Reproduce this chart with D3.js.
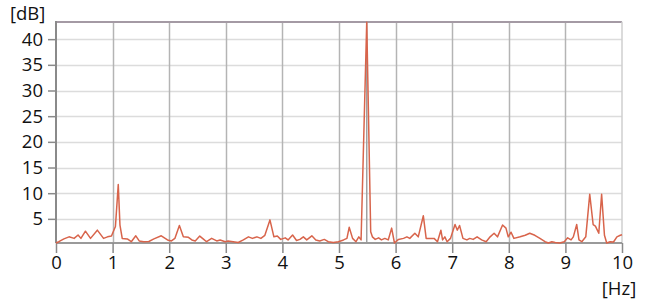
<!DOCTYPE html>
<html><head><meta charset="utf-8">
<script src="https://cdn.jsdelivr.net/npm/d3@7"></script>
<style>body{margin:0;background:#fff}svg{display:block}text{font-family:"Open Sans",sans-serif;fill:#111}</style>
</head><body><svg id="c" width="649" height="299"></svg>
<script>
const freq = [0,0.05,0.14,0.23,0.32,0.39,0.44,0.52,0.61,0.73,0.84,0.91,0.98,1.05,1.10,1.13,1.17,1.26,1.33,1.41,1.47,1.55,1.64,1.73,1.86,1.97,2.04,2.10,2.18,2.25,2.34,2.40,2.46,2.54,2.61,2.66,2.75,2.84,2.90,2.99,3.04,3.13,3.22,3.31,3.40,3.47,3.55,3.62,3.69,3.78,3.85,3.91,3.97,4.05,4.10,4.18,4.25,4.31,4.37,4.43,4.52,4.59,4.66,4.74,4.81,4.90,4.99,5.08,5.14,5.18,5.24,5.30,5.35,5.39,5.49,5.56,5.59,5.64,5.70,5.75,5.81,5.87,5.93,5.98,6.05,6.14,6.20,6.25,6.34,6.40,6.49,6.54,6.60,6.68,6.74,6.80,6.83,6.87,6.91,6.97,7.05,7.09,7.13,7.19,7.26,7.31,7.37,7.44,7.52,7.60,7.67,7.74,7.80,7.89,7.95,7.99,8.04,8.09,8.20,8.29,8.37,8.46,8.55,8.64,8.70,8.76,8.82,8.90,8.98,9.04,9.10,9.14,9.20,9.24,9.29,9.36,9.43,9.49,9.53,9.59,9.64,9.69,9.73,9.79,9.85,9.91,9.97,10.0];
const dB = [0.3,0.55,1.1,1.5,1.2,1.85,1.2,2.6,1.2,2.8,1.2,1.5,1.65,3.5,11.7,3.8,1.2,1.1,0.55,1.7,0.7,0.55,0.6,1.1,1.7,0.9,0.7,1.2,3.7,1.5,1.4,0.9,0.7,1.65,1.0,0.55,1.2,0.7,0.9,0.55,0.7,0.55,0.4,0.9,1.5,1.2,1.5,1.2,1.8,4.8,1.5,1.65,1.0,1.3,0.9,1.85,0.8,1.0,1.5,0.9,1.7,0.9,0.7,1.0,0.55,0.4,0.55,0.9,1.2,3.35,1.2,0.55,1.5,0.9,43.3,2.5,1.5,1.0,1.3,0.9,1.2,0.9,3.2,0.3,1.0,1.2,1.5,1.2,2.2,1.5,5.6,1.2,1.2,1.2,0.55,2.8,0.9,1.5,0.55,1.2,3.9,2.8,3.7,1.2,0.9,1.2,1.0,1.5,0.9,0.55,1.5,2.2,1.5,3.8,3.2,1.5,2.4,1.2,1.5,1.8,2.2,1.8,1.2,0.55,0.3,0.55,0.4,0.3,0.55,1.3,0.9,1.5,3.9,0.9,0.55,1.5,9.8,3.9,3.6,2.2,9.8,1.8,0.3,0.55,0.5,1.5,1.8,1.9];
const xTicks = [0,1,2,3,4,5,6,7,8,9,10];
const yTicks = [5,10,15,20,25,30,35,40];
const yUnit = "[dB]", xUnit = "[Hz]";
const markerFreq = 5.49;

const FS = "18.5px";
const svg = d3.select("#c");
const x = d3.scaleLinear([0,10],[56,622]);
const y = d3.scaleLinear([0.3,43.4],[243,21.7]);

// horizontal grid
svg.append("g").selectAll("line").data(yTicks).join("line")
  .attr("x1",56).attr("x2",622).attr("y1",d=>Math.round(y(d))+0.5).attr("y2",d=>Math.round(y(d))+0.5)
  .attr("stroke","#dcdcdc").attr("stroke-width",1.5);
// vertical grid
svg.append("g").selectAll("line").data(xTicks.slice(1,10)).join("line")
  .attr("x1",d=>Math.round(x(d))+0.5).attr("x2",d=>Math.round(x(d))+0.5).attr("y1",21.7).attr("y2",243)
  .attr("stroke","#b4b4b4").attr("stroke-width",1.5);
// marker line
svg.append("line").attr("x1",x(markerFreq)).attr("x2",x(markerFreq)).attr("y1",21.7).attr("y2",243)
  .attr("stroke","#a0a0a0").attr("stroke-width",1.5);
// borders
svg.append("line").attr("x1",56).attr("x2",622).attr("y1",22).attr("y2",22).attr("stroke","#a49aa4").attr("stroke-width",2);
svg.append("line").attr("x1",622).attr("x2",622).attr("y1",21.7).attr("y2",243).attr("stroke","#cfcfcf").attr("stroke-width",1.5);

// axes
const yAxis = d3.axisLeft(y).tickValues(yTicks).tickSize(8).tickPadding(5).tickFormat(d3.format("d"));
const gy = svg.append("g").attr("transform","translate(56,0)").call(yAxis);
gy.select(".domain").attr("stroke","#8a8a8a").attr("stroke-width",2).attr("d","M0,21V243");
gy.selectAll(".tick line").attr("stroke","#8a8a8a").attr("stroke-width",1.5);
gy.selectAll(".tick text").style("font-size",FS).style("font-family","'Open Sans',sans-serif").attr("fill","#111");

const xAxis = d3.axisBottom(x).tickValues(xTicks).tickSize(10).tickPadding(3).tickFormat(d3.format("d"));
const gx = svg.append("g").attr("transform","translate(0,243)").call(xAxis);
gx.select(".domain").attr("stroke","#9a9a9a").attr("stroke-width",2).attr("d","M56,0H622");
gx.selectAll(".tick line").attr("stroke","#8a8a8a").attr("stroke-width",1.5);
gx.selectAll(".tick text").style("font-size",FS).style("font-family","'Open Sans',sans-serif").attr("fill","#111");

// line
const pts = freq.map((f,i)=>[f,dB[i]]);
svg.append("path").datum(pts)
  .attr("fill","none").attr("stroke","#d8644b").attr("stroke-width",1.5).attr("stroke-linejoin","round")
  .attr("d", d3.line().x(d=>x(d[0])).y(d=>y(d[1])));

// unit labels
svg.append("text").attr("x",10).attr("y",20).style("font-size",FS).text(yUnit);
svg.append("text").attr("x",619).attr("y",295).attr("text-anchor","middle").style("font-size",FS).text(xUnit);
</script></body></html>
